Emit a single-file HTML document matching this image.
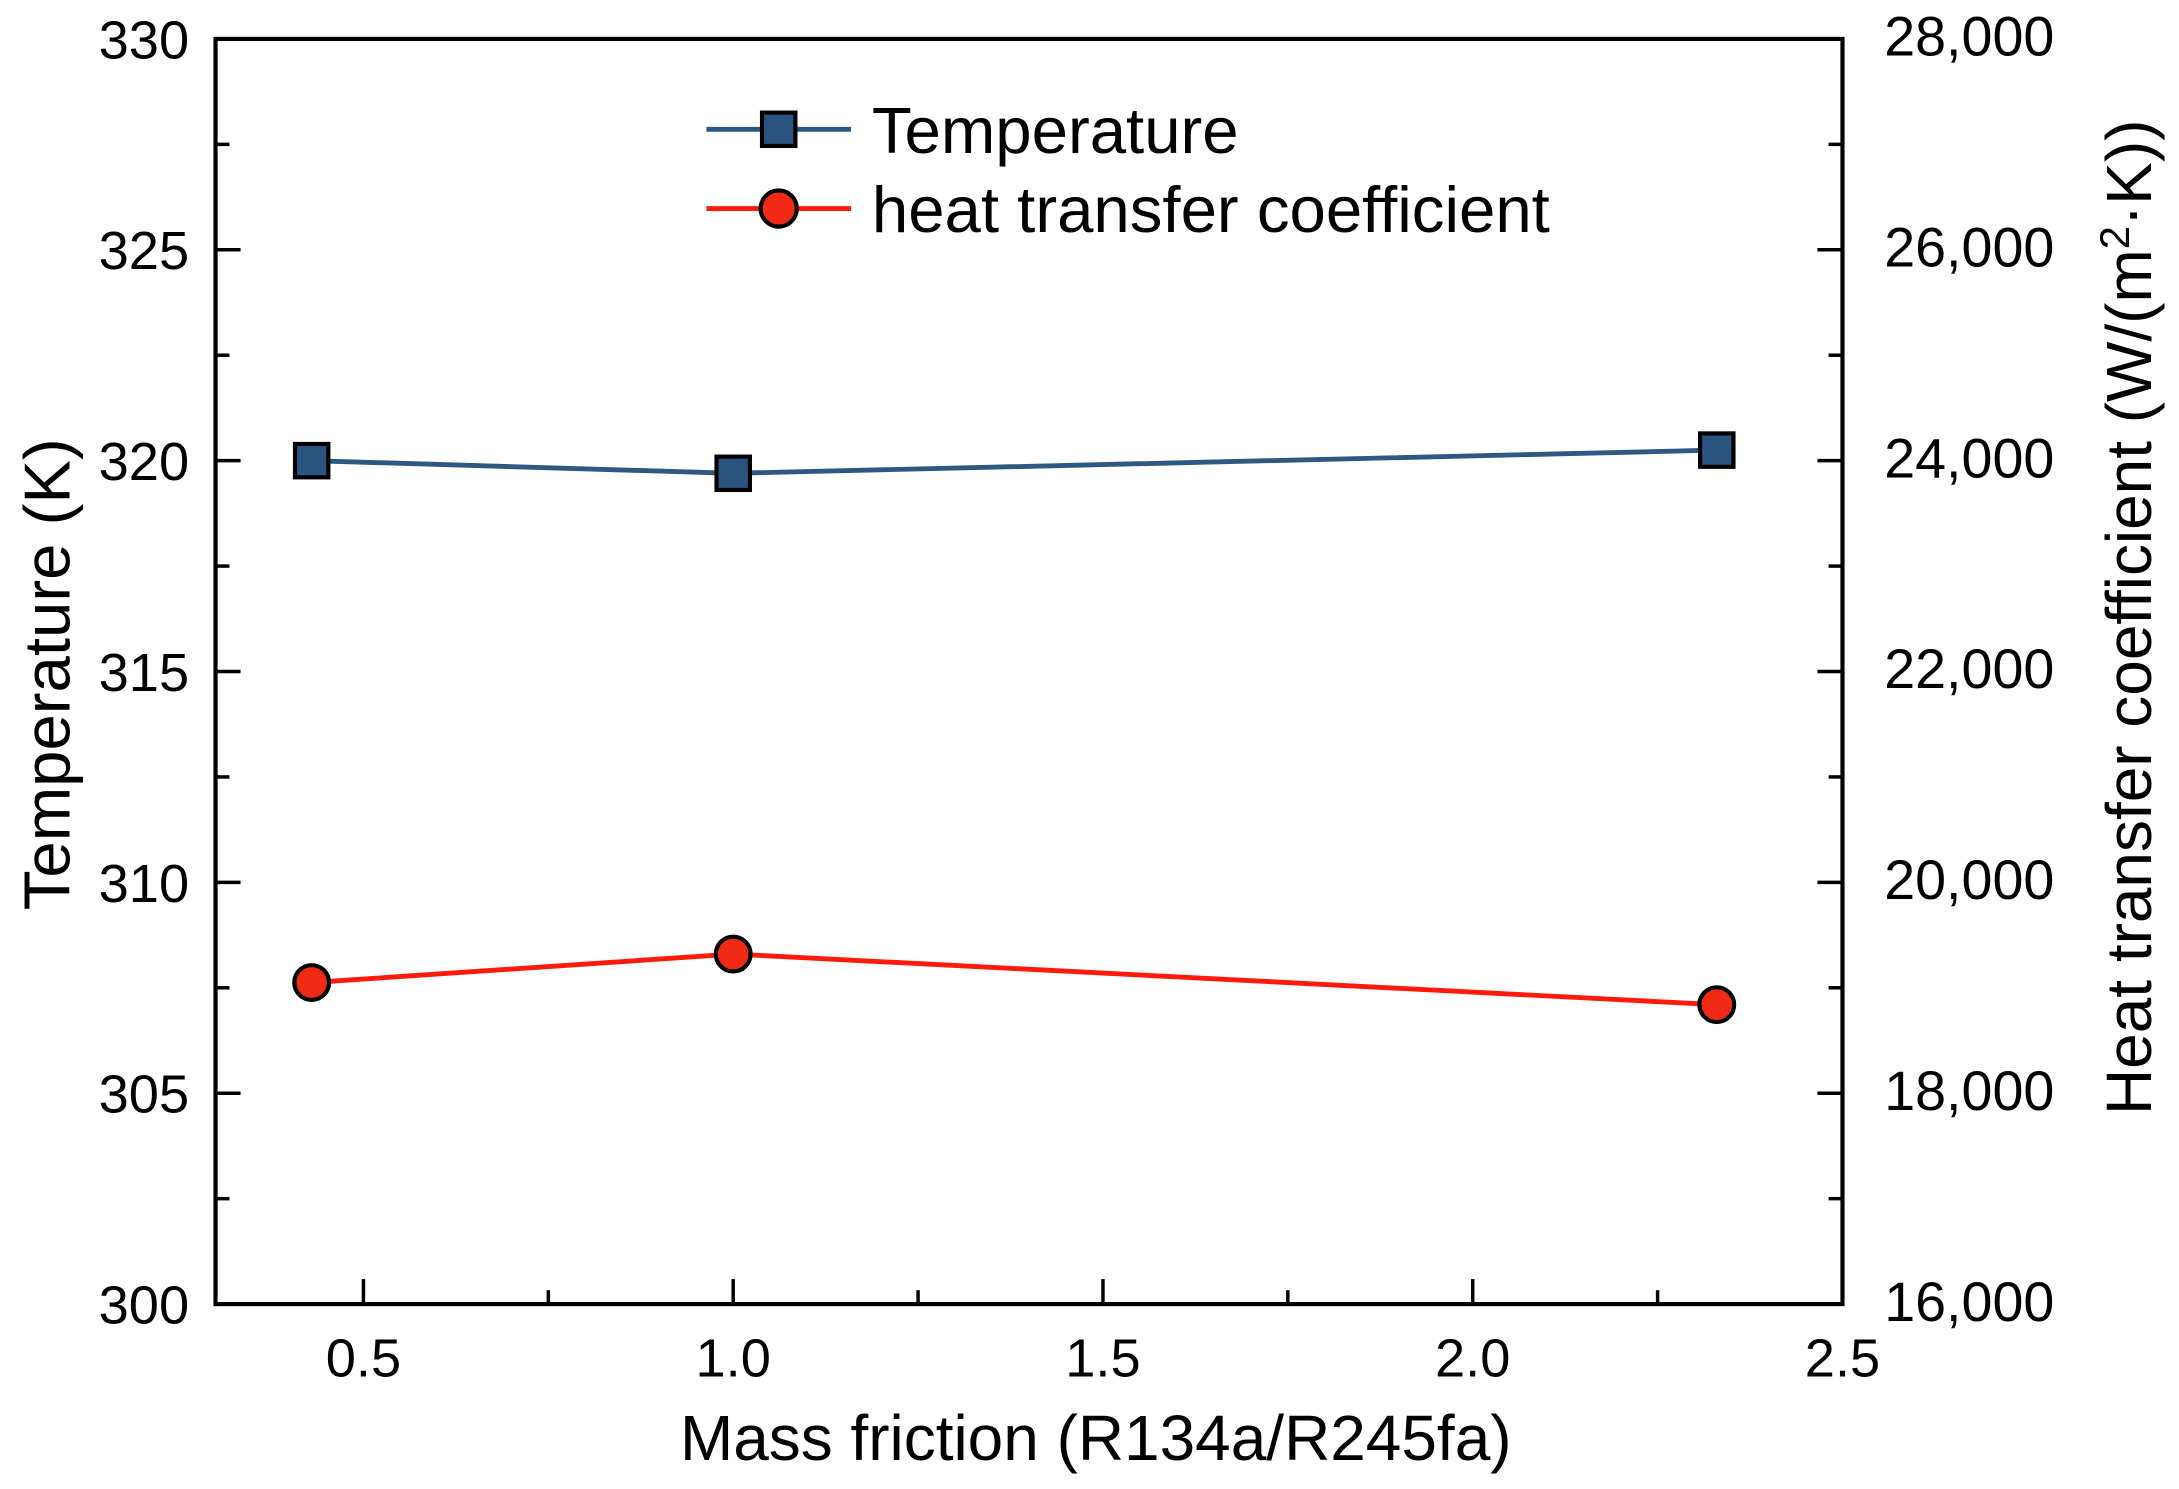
<!DOCTYPE html>
<html><head><meta charset="utf-8"><style>
html,body{margin:0;padding:0;background:#fff;}
svg{display:block;font-family:"Liberation Sans",Arial,sans-serif;}
</style></head><body>
<svg id="chart" width="2179" height="1489" viewBox="0 0 1567 1071" preserveAspectRatio="none" xmlns="http://www.w3.org/2000/svg">
<rect width="1567" height="1071" fill="#fff"/>
<g id="grid"></g>
<text transform="translate(50,485) rotate(-90)" text-anchor="middle" font-size="47" fill="#000">Temperature (K)</text>
<text transform="translate(1547,444) rotate(-90)" text-anchor="middle" font-size="46" fill="#000">Heat transfer coefficient (W/(m<tspan font-size="30" dy="-16">2</tspan><tspan dy="16">·K))</tspan></text>
<text x="788" y="1050" text-anchor="middle" font-size="46" fill="#000">Mass friction (R134a/R245fa)</text>
<g>
<line x1="508" y1="93" x2="612" y2="93" stroke="#2e5783" stroke-width="3.5"/>
<rect x="548" y="81" width="24" height="24" fill="#2b5580" stroke="#000" stroke-width="3"/>
<text x="627" y="110" font-size="47">Temperature</text>
<line x1="508" y1="150" x2="612" y2="150" stroke="#ff1a0a" stroke-width="3.5"/>
<circle cx="560" cy="150" r="13" fill="#f02a14" stroke="#000" stroke-width="3"/>
<text x="627" y="167" font-size="47">heat transfer coefficient</text>
</g>
</svg>
<script>
const xCats=[0.43,1.0,2.33];
const tempValues=[320.0,319.7,320.25];
const htcValues=[19050,19320,18840];
const xTicks=["0.5","1.0","1.5","2.0","2.5"];
const yLeftTicks=["300","305","310","315","320","325","330"];
const yRightTicks=["16,000","18,000","20,000","22,000","24,000","26,000","28,000"];
const NS="http://www.w3.org/2000/svg";
const L=155,R=1325,T=28,B=938;
const xs=v=>L+(v-0.3)/(2.5-0.3)*(R-L);
const yl=v=>B-(v-300)/30*(B-T);
const yr=v=>B-(v-16000)/12000*(B-T);
const svg=document.getElementById('chart');
const g=document.getElementById('grid');
function mk(tag,attrs,parent){const e=document.createElementNS(NS,tag);for(const k in attrs)e.setAttribute(k,attrs[k]);(parent||svg).appendChild(e);return e;}
const fr=mk('rect',{x:L,y:T,width:R-L,height:B-T,fill:'none',stroke:'#000','stroke-width':3},g);


for(let v=300;v<=330;v+=2.5){const maj=(v%5===0);mk('line',{x1:L,x2:L+(maj?18:10),y1:yl(v),y2:yl(v),stroke:'#000','stroke-width':2.5},g);}
yLeftTicks.forEach(s=>{const t=mk('text',{x:136,y:yl(+s)+14,'text-anchor':'end','font-size':39});t.textContent=s;

});
for(let v=16000;v<=28000;v+=1000){const maj=(v%2000===0);mk('line',{x1:R,x2:R-(maj?18:10),y1:yr(v),y2:yr(v),stroke:'#000','stroke-width':2.5},g);}
yRightTicks.forEach(s=>{const v=+s.replace(',','');const t=mk('text',{x:1355,y:yr(v)+12,'font-size':40});t.textContent=s;

});
for(let v=0.5;v<=2.5001;v+=0.25){const maj=Math.abs(v*2-Math.round(v*2))<1e-6;mk('line',{x1:xs(v),x2:xs(v),y1:B,y2:B-(maj?18:10),stroke:'#000','stroke-width':2.5},g);}
xTicks.forEach(s=>{const t=mk('text',{x:xs(+s),y:990,'text-anchor':'middle','font-size':39});t.textContent=s;

});
const tl=mk('polyline',{points:xCats.map((x,i)=>xs(x)+','+yl(tempValues[i])).join(' '),fill:'none',stroke:'#2e5783','stroke-width':3.5});


xCats.forEach((x,i)=>{const r=mk('rect',{x:xs(x)-12,y:yl(tempValues[i])-12,width:24,height:24,fill:'#2b5580',stroke:'#000','stroke-width':3});

});
const hl=mk('polyline',{points:xCats.map((x,i)=>xs(x)+','+yr(htcValues[i])).join(' '),fill:'none',stroke:'#ff1a0a','stroke-width':3.5});


xCats.forEach((x,i)=>{const c=mk('circle',{cx:xs(x),cy:yr(htcValues[i]),r:12.5,fill:'#f02a14',stroke:'#000','stroke-width':3});

});
</script>
</body></html>
